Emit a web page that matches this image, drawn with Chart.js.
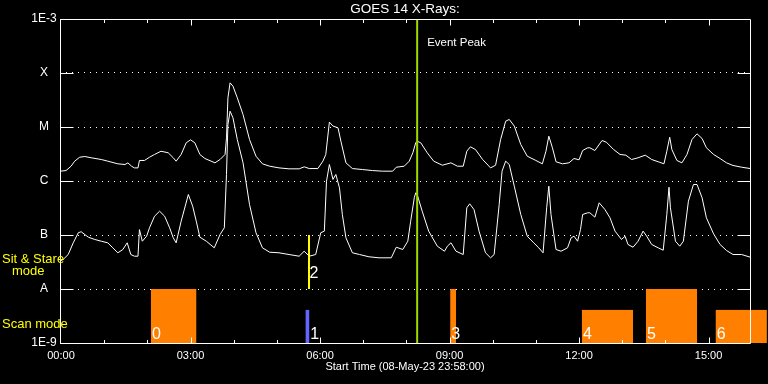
<!DOCTYPE html>
<html>
<head>
<meta charset="utf-8">
<script src="https://cdn.jsdelivr.net/npm/chart.js@4"></script>
<style>
  html, body { margin: 0; padding: 0; background: #000; }
  canvas { display: block; background: #000; }
</style>
</head>
<body>
<canvas id="goes" width="768" height="384"></canvas>
<script>
// GOES 14 X-ray flux, times in minutes after 00:00
const longMin = [
    -1, 7, 14, 19, 26, 33, 42, 56, 65, 79,
    89, 93, 98, 102, 107, 109, 116, 123, 130, 139,
    149, 156, 160, 167, 174, 180, 186, 193, 200, 214,
    221, 228, 230, 232, 235, 239, 245, 253, 262, 271,
    280, 290, 303, 317, 331, 338, 345, 357, 364, 368,
    373, 378, 385, 389, 396, 405, 419, 433, 447, 461,
    466, 477, 484, 489, 493, 495, 500, 509, 518, 530,
    542, 551, 559, 564, 569, 576, 586, 597, 604, 611,
    618, 623, 630, 639, 648, 660, 669, 674, 678, 683,
    688, 697, 706, 713, 720, 725, 732, 735, 742, 752,
    758, 768, 777, 785, 793, 802, 812, 821, 830, 838,
    842, 846, 849, 856, 863, 870, 877, 884, 891, 897,
    907, 916, 925, 934, 946, 958
];
const longFlux = [
    1.52e-6, 1.56e-6, 1.88e-6, 2.33e-6, 2.76e-6, 2.84e-6, 2.69e-6, 2.50e-6, 2.33e-6, 2.08e-6,
    2.02e-6, 2.17e-6, 1.88e-6, 1.75e-6, 1.75e-6, 2.40e-6, 2.40e-6, 2.76e-6, 3.10e-6, 3.56e-6,
    3.33e-6, 2.69e-6, 2.33e-6, 3.10e-6, 5.10e-6, 5.79e-6, 5.10e-6, 3.10e-6, 2.61e-6, 2.17e-6,
    2.50e-6, 3.10e-6, 6.31e-6, 3.48e-5, 6.58e-5, 5.70e-5, 3.48e-5, 1.70e-5, 5.87e-6, 2.88e-6,
    2.08e-6, 1.88e-6, 1.75e-6, 1.68e-6, 1.68e-6, 1.83e-6, 1.70e-6, 1.70e-6, 2.33e-6, 3.10e-6,
    1.23e-5, 1.04e-5, 9.66e-6, 5.46e-6, 2.17e-6, 1.70e-6, 1.63e-6, 1.56e-6, 1.52e-6, 1.52e-6,
    1.80e-6, 1.88e-6, 2.33e-6, 3.33e-6, 5.10e-6, 5.46e-6, 5.10e-6, 3.33e-6, 2.33e-6, 1.96e-6,
    2.17e-6, 1.88e-6, 1.88e-6, 3.56e-6, 4.30e-6, 3.83e-6, 2.50e-6, 1.75e-6, 1.96e-6, 5.87e-6,
    1.28e-5, 1.38e-5, 1.04e-5, 4.74e-6, 2.88e-6, 2.40e-6, 2.08e-6, 3.56e-6, 6.76e-6, 4.12e-6,
    2.27e-6, 2.08e-6, 2.17e-6, 2.61e-6, 2.47e-6, 3.67e-6, 4.12e-6, 4.12e-6, 3.67e-6, 5.62e-6,
    5.23e-6, 3.83e-6, 3.10e-6, 3.01e-6, 2.50e-6, 2.69e-6, 3.01e-6, 2.50e-6, 2.27e-6, 2.08e-6,
    3.56e-6, 6.47e-6, 3.83e-6, 2.40e-6, 2.17e-6, 3.10e-6, 5.87e-6, 7.48e-6, 6.12e-6, 4.12e-6,
    3.10e-6, 2.61e-6, 2.17e-6, 1.94e-6, 1.80e-6, 1.70e-6
];
const shortMin = [
    -1, 3, 10, 17, 24, 28, 38, 47, 56, 65,
    72, 79, 86, 92, 97, 102, 107, 109, 113, 119,
    123, 130, 137, 144, 151, 156, 160, 167, 177, 183,
    188, 193, 202, 213, 221, 227, 230, 232, 235, 239,
    245, 253, 262, 271, 280, 290, 303, 317, 331, 338,
    345, 354, 361, 366, 369, 373, 378, 382, 387, 391,
    396, 405, 415, 428, 442, 459, 466, 475, 482, 486,
    491, 493, 495, 502, 511, 523, 533, 537, 542, 549,
    559, 564, 568, 574, 581, 590, 597, 602, 609, 613,
    618, 623, 630, 639, 648, 657, 664, 670, 675, 678,
    681, 688, 695, 704, 709, 713, 718, 722, 725, 732,
    735, 742, 748, 756, 763, 770, 779, 784, 788, 795,
    802, 809, 814, 821, 830, 837, 842, 845, 847, 854,
    860, 865, 872, 879, 884, 891, 897, 907, 916, 925,
    934, 946, 958
];
const shortFlux = [
    3.3e-8, 3.52e-8, 4.35e-8, 7.17e-8, 1.10e-7, 1.15e-7, 9.10e-8, 8.26e-8, 7.67e-8, 7.17e-8,
    5.79e-8, 4.68e-8, 5.39e-8, 7.17e-8, 4.35e-8, 4.05e-8, 4.05e-8, 1.26e-7, 7.67e-8, 9.50e-8,
    1.36e-7, 2.23e-7, 2.76e-7, 2.23e-7, 1.36e-7, 8.87e-8, 7.17e-8, 1.80e-7, 5.62e-7, 3.41e-7,
    1.80e-7, 9.10e-8, 7.67e-8, 5.79e-8, 1.02e-7, 1.36e-7, 1.32e-6, 1.11e-5, 1.96e-5, 1.48e-5,
    5.87e-6, 2.17e-6, 3.67e-7, 1.10e-7, 5.79e-8, 4.80e-8, 4.68e-8, 4.35e-8, 4.05e-8, 5.01e-8,
    4.05e-8, 4.35e-8, 1.10e-7, 1.18e-7, 9.92e-7, 2.02e-6, 1.07e-6, 1.32e-6, 7.48e-7, 2.40e-7,
    8.87e-8, 4.68e-8, 4.35e-8, 3.95e-8, 3.78e-8, 3.78e-8, 5.94e-8, 5.39e-8, 7.67e-8, 1.80e-7,
    4.89e-7, 6.05e-7, 5.62e-7, 2.76e-7, 1.18e-7, 6.21e-8, 5.01e-8, 6.21e-8, 7.17e-8, 5.01e-8,
    4.35e-8, 3.19e-7, 3.78e-7, 2.96e-7, 1.18e-7, 4.68e-8, 3.78e-8, 4.35e-8, 3.67e-7, 1.52e-6,
    2.33e-6, 2.02e-6, 8.01e-7, 2.40e-7, 9.50e-8, 7.17e-8, 5.79e-8, 4.68e-8, 3.19e-7, 8.01e-7,
    2.40e-7, 5.39e-8, 5.01e-8, 5.79e-8, 8.87e-8, 9.50e-8, 7.67e-8, 1.26e-7, 2.40e-7, 2.58e-7,
    2.58e-7, 2.14e-7, 3.95e-7, 2.96e-7, 2.08e-7, 1.18e-7, 8.26e-8, 9.50e-8, 6.67e-8, 5.94e-8,
    7.67e-8, 1.18e-7, 9.50e-8, 6.67e-8, 5.79e-8, 5.23e-8, 2.40e-7, 7.67e-7, 3.19e-7, 7.67e-8,
    6.21e-8, 7.67e-8, 4.23e-7, 8.61e-7, 8.61e-7, 4.89e-7, 2.08e-7, 1.05e-7, 6.67e-8, 5.16e-8,
    4.35e-8, 4.35e-8, 3.88e-8
];

// observing mode intervals (minutes) shown in the bottom band
const modeLabels = ['0', '1', '2', '3', '4', '5', '6'];
const modeStart  = [125, 340, 344, 541, 724, 813, 910];
const modeEnd    = [188, 345, 344, 549, 795, 884, 981];
const modeTop    = [1e-8, 4.1e-9, 1e-7, 1e-8, 4.1e-9, 1e-8, 4.1e-9];
const modeBottom = [1e-9, 1e-9, 1e-8, 1e-9, 1e-9, 1e-9, 1e-9];
const modeColors = ['#ff8000', '#6464ff', '#ffff00', '#ff8000', '#ff8000', '#ff8000', '#ff8000'];

const eventPeakMin = 495;

const xTickValues = [0, 180, 360, 540, 720, 900];
const xTickLabels = ['00:00', '03:00', '06:00', '09:00', '12:00', '15:00'];
const yTickValues = [1e-9, 1e-8, 1e-7, 1e-6, 1e-5, 1e-4, 1e-3];
const yTickLabels = ['1E-9', 'A', 'B', 'C', 'M', 'X', '1E-3'];

const FONT = "'Liberation Sans', Arial, sans-serif";

const crisp = v => Math.round(v) + 0.5;

const goesOverlay = {
    id: 'goesOverlay',
    beforeDatasetsDraw(chart) {
        const { ctx, scales: { x, y } } = chart;
        ctx.save();
        modeStart.forEach((s, i) => {
            const x0 = x.getPixelForValue(s);
            const x1 = x.getPixelForValue(modeEnd[i]);
            const y0 = y.getPixelForValue(modeTop[i]);
            const y1 = y.getPixelForValue(modeBottom[i]);
            if (x1 - x0 < 1) {
                ctx.strokeStyle = modeColors[i];
                ctx.lineWidth = 2;
                ctx.beginPath();
                ctx.moveTo(Math.round(x0), y0);
                ctx.lineTo(Math.round(x0), y1);
                ctx.stroke();
            } else {
                ctx.fillStyle = modeColors[i];
                ctx.fillRect(x0, y0, x1 - x0, y1 - y0);
            }
        });
        ctx.restore();
    },
    afterDatasetsDraw(chart) {
        const { ctx, chartArea: a, scales: { x, y } } = chart;
        const left = crisp(a.left), right = crisp(a.right);
        const top = Math.floor(a.top) + 0.5, bottom = crisp(a.bottom);
        ctx.save();

        // event peak marker
        const ex = x.getPixelForValue(eventPeakMin);
        ctx.strokeStyle = 'rgb(160,215,0)';
        ctx.lineWidth = 2;
        ctx.beginPath();
        ctx.moveTo(ex, a.top);
        ctx.lineTo(ex, a.bottom);
        ctx.stroke();

        ctx.strokeStyle = '#fff';
        ctx.lineWidth = 1;
        ctx.beginPath();
        // frame
        ctx.rect(left, top, right - left, bottom - top);
        // y ticks, both sides
        yTickValues.slice(1, -1).forEach(v => {
            const py = crisp(y.getPixelForValue(v));
            ctx.moveTo(left, py); ctx.lineTo(left + 13, py);
            ctx.moveTo(right - 13, py); ctx.lineTo(right, py);
        });
        // x ticks every hour, pointing inward
        for (let h = 1; h <= 15; h++) {
            const px = crisp(x.getPixelForValue(h * 60));
            const len = h % 3 === 0 ? 6 : 3.5;
            ctx.moveTo(px, top); ctx.lineTo(px, top + len);
            ctx.moveTo(px, bottom); ctx.lineTo(px, bottom - len);
        }
        ctx.stroke();

        // mode numbers
        ctx.fillStyle = '#fff';
        ctx.font = '16px ' + FONT;
        ctx.textAlign = 'left';
        ctx.textBaseline = 'alphabetic';
        modeLabels.forEach((t, i) => {
            const x0 = x.getPixelForValue(modeStart[i]);
            const x1 = x.getPixelForValue(modeEnd[i]);
            const lx = (x1 - x0 < 5 ? x1 : x0) + 1;
            const ly = y.getPixelForValue(modeBottom[i]) - (modeBottom[i] > 1e-9 ? 11 : 4);
            ctx.fillText(t, lx, ly);
        });

        // annotations
        ctx.font = '11.5px ' + FONT;
        ctx.textBaseline = 'middle';
        ctx.fillText('Event Peak', ex + 10, a.top + 24);

        ctx.fillStyle = '#ffff00';
        ctx.font = '13px ' + FONT;
        ctx.fillText('Sit & Stare', 2, 259);
        ctx.fillText('mode', 12, 271);
        ctx.fillText('Scan mode', 2, 324);
        ctx.restore();
    }
};

new Chart(document.getElementById('goes'), {
    type: 'line',
    data: {
        datasets: [
            {
                label: 'long',
                data: longMin.map((m, i) => ({ x: m, y: longFlux[i] })),
                xAxisID: 'x',
                yAxisID: 'y',
                borderColor: '#fff',
                borderWidth: 1,
                pointRadius: 0,
                tension: 0
            },
            {
                label: 'short',
                data: shortMin.map((m, i) => ({ x: m, y: shortFlux[i] })),
                xAxisID: 'x',
                yAxisID: 'y',
                borderColor: '#fff',
                borderWidth: 1,
                pointRadius: 0,
                tension: 0
            }
        ]
    },
    options: {
        responsive: false,
        animation: false,
        events: [],
        layout: { padding: { left: 0, right: 18, top: 0, bottom: 0 } },
        plugins: {
            legend: { display: false },
            tooltip: { enabled: false }
        },
        scales: {
            x: {
                type: 'linear',
                min: -1.4,
                max: 957.6,
                afterBuildTicks: s => { s.ticks = xTickValues.map(v => ({ value: v })); },
                afterFit: s => { s.height = 41; },
                ticks: {
                    color: '#fff',
                    font: { family: FONT, size: 11 },
                    padding: -1.5,
                    maxRotation: 0,
                    autoSkip: false,
                    callback: (v, i) => xTickLabels[i]
                },
                grid: { display: false },
                border: { display: false },
                title: {
                    display: true,
                    text: 'Start Time (08-May-23 23:58:00)',
                    color: '#fff',
                    font: { family: FONT, size: 11 },
                    padding: { top: 0, bottom: 10 }
                }
            },
            // top axis only carries the title, centred over the plot
            top: {
                type: 'linear',
                position: 'top',
                ticks: { display: false },
                grid: { display: false },
                border: { display: false },
                afterFit: s => { s.height = 19; },
                title: {
                    display: true,
                    text: 'GOES 14 X-Rays:',
                    color: '#fff',
                    font: { family: FONT, size: 13.5 },
                    padding: { top: 1.5, bottom: 0 }
                }
            },
            y: {
                type: 'logarithmic',
                min: 1e-9,
                max: 1e-3,
                afterBuildTicks: s => { s.ticks = yTickValues.map(v => ({ value: v })); },
                afterFit: s => { s.width = 60; },
                ticks: {
                    color: '#fff',
                    font: { family: FONT, size: 12 },
                    padding: 3.3,
                    crossAlign: 'center',
                    autoSkip: false,
                    callback: (v, i) => yTickLabels[i]
                },
                grid: { color: '#fff', lineWidth: 1, drawTicks: false },
                border: { display: false, dash: [1, 5] }
            }
        }
    },
    plugins: [goesOverlay]
});
</script>
</body>
</html>
